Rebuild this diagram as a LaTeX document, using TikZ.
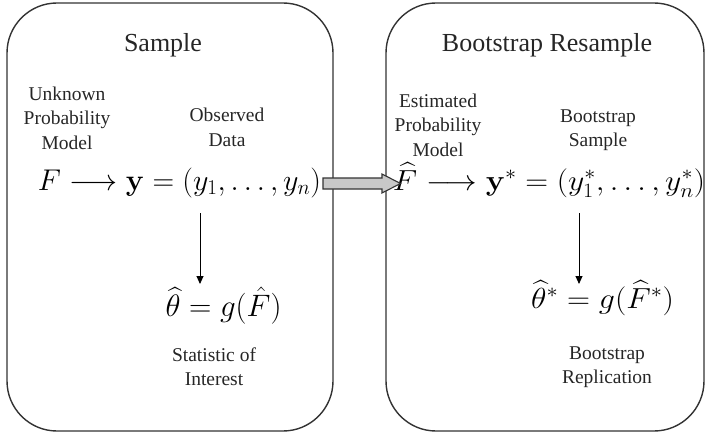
\RequirePackage{fix-cm}
\documentclass[tikz,border=0pt]{standalone}
\usepackage{amsmath}
\usepackage{graphicx}
\usepackage[no-math]{fontspec}
\setmainfont{Liberation Serif}
\usetikzlibrary{arrows.meta}
\definecolor{edge}{HTML}{333333}
\definecolor{arrfill}{HTML}{C8C8C8}
\tikzset{
  panel/.style={draw=edge, line width=1.4pt, rounded corners=50pt},
  title/.style={font=\fontsize{26}{30}\selectfont, inner sep=0pt, text=black!85},
  lbl/.style={font=\fontsize{19.5}{24.5}\selectfont, align=center, inner sep=0pt, text=black!85},
  eqn/.style={font=\fontsize{30}{36}\selectfont, inner sep=0pt, anchor=base},
  downarr/.style={draw=black, line width=0.9pt, -{Triangle[length=8pt,width=7pt]}},
  bigarr/.style={draw=edge, line width=1.1pt, fill=arrfill, line join=miter}
}
\begin{document}
\begin{tikzpicture}[x=1pt,y=-1pt]
\useasboundingbox (0,0) rectangle (706,433);
% panels
\draw[panel] (7,3) rectangle (333,431);
\draw[panel] (386,3) rectangle (704,431);
% left panel
\node[title] (t1) at (163,45) {Sample};
\node[lbl] (unk) at (67,118) {Unknown\\Probability\\Model};
\node[lbl] (obs) at (227,127.5) {Observed\\Data};
\node[eqn] (dataL) at (179.5,190) {$F \longrightarrow \mathbf{y} = (y_1,\ldots,y_n)$};
\node[eqn, font=\fontsize{31}{36}\selectfont] (thetaL) at (223.5,316) {$\widehat{\theta} = g(\hat{F})$};
\node[lbl] (stat) at (214,366.5) {Statistic of\\Interest};
% right panel
\node[title] (t2) at (547,45) {Bootstrap Resample};
\node[lbl] (est) at (438,125) {Estimated\\Probability\\Model};
\node[lbl] (bs) at (598,130) {Bootstrap\\Sample};
\node[eqn, font=\fontsize{29}{36}\selectfont] (dataR) at (549,190) {\scalebox{1.09}[1]{$\widehat{F} \longrightarrow \mathbf{y}^* = (y_1^*,\ldots,y_n^*)$}};
\node[eqn, font=\fontsize{29}{36}\selectfont] (thetaR) at (602.5,308) {\scalebox{1.1}[1]{$\widehat{\theta}^* = g(\widehat{F}^*)$}};
\node[lbl] (rep) at (607,367) {Bootstrap\\Replication};
% down arrows
\coordinate (a1s) at (200,213);
\coordinate (a1e) at (200,284);
\coordinate (a2s) at (579,213);
\coordinate (a2e) at (579,284);
\draw[downarr] (a1s) -- (a1e);
\draw[downarr] (a2s) -- (a2e);
% block arrow between panels
\draw[bigarr] (323,178) -- (382,178) -- (382,174) -- (400.5,183.5) -- (382,193) -- (382,189) -- (323,189) -- cycle;
\end{tikzpicture}
\end{document}
